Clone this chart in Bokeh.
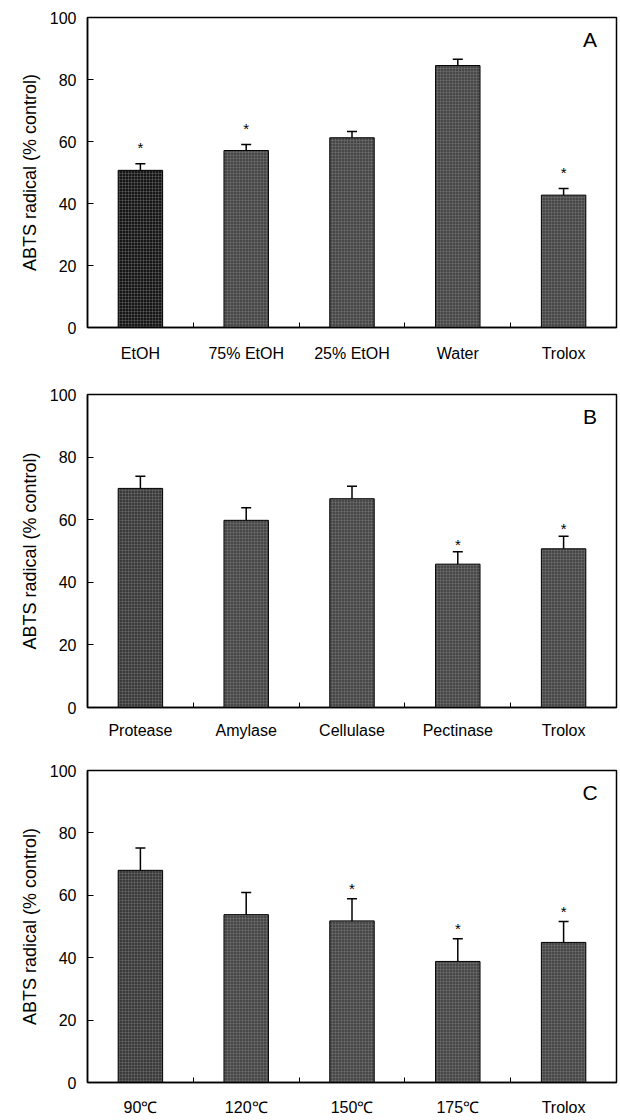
from bokeh.plotting import figure
from bokeh.models import (ColumnDataSource, Range1d, FixedTicker, Whisker, TeeHead, Label)
from bokeh.layouts import column
from bokeh.core.properties import value
from bokeh.embed import file_html
from bokeh.resources import INLINE

# ---- data ----
cats_a = ["EtOH", "75% EtOH", "25% EtOH", "Water", "Trolox"]
vals_a = [50.7, 57.1, 61.2, 84.5, 42.7]
errs_a = [2.1, 1.9, 2.0, 2.0, 2.1]
star_a = [True, True, False, False, True]

cats_b = ["Protease", "Amylase", "Cellulase", "Pectinase", "Trolox"]
vals_b = [70.0, 59.8, 66.7, 45.8, 50.7]
errs_b = [3.9, 4.0, 4.0, 4.0, 4.0]
star_b = [False, False, False, True, True]

cats_c = ["90\u2103", "120\u2103", "150\u2103", "175\u2103", "Trolox"]
vals_c = [68.0, 53.8, 51.8, 38.8, 44.9]
errs_c = [7.2, 7.1, 7.1, 7.3, 6.7]
star_c = [False, False, True, True, True]

y_ticks = [0, 20, 40, 60, 80, 100]
panel_letters = ["A", "B", "C"]

FONT = "Liberation Sans"


def make_panel(cats, vals, errs, stars, letter, height, border_left, border_top,
               bottom_border, label_standoff, first_color, star_off):
    n = len(cats)
    xs = [i + 0.5 for i in range(n)]
    tops = [v + e for v, e in zip(vals, errs)]
    colors = [first_color] + ["#474747"] * (n - 1)
    src = ColumnDataSource(dict(x=xs, top=vals, up=tops, color=colors))

    p = figure(width=618, height=height, output_backend="svg", toolbar_location=None,
               x_range=Range1d(0, n), y_range=Range1d(0, 100),
               min_border_left=border_left, min_border_right=2,
               min_border_top=border_top, min_border_bottom=bottom_border)
    p.background_fill_color = "white"
    p.border_fill_color = "white"
    p.outline_line_color = "black"
    p.outline_line_width = 1.5
    p.grid.visible = False

    p.vbar(x="x", top="top", bottom=0, width=0.42, source=src,
           fill_color="color", line_color="black", line_width=1,
           hatch_pattern="+", hatch_color="#8a8a8a", hatch_alpha=0.55,
           hatch_scale=3.0, hatch_weight=0.6)

    w = Whisker(base="x", lower="top", upper="up", source=src, dimension="height",
                line_color="black", line_width=1.5, lower_head=None,
                upper_head=TeeHead(size=10, line_color="black", line_width=1.5))
    p.add_layout(w)

    sx = [x for x, s in zip(xs, stars) if s]
    sy = [t for t, s in zip(tops, stars) if s]
    p.text(x=sx, y=sy, text=["*"] * len(sx), text_align="center", text_baseline="bottom",
           y_offset=star_off, text_font=value(FONT), text_font_size="15px",
           text_color="black")

    p.add_layout(Label(x=n - 0.25, y=100, y_offset=-10, text=letter, text_align="center",
                       text_baseline="top", text_font=FONT, text_font_size="21px",
                       text_color="black"))

    # x axis
    xa = p.xaxis[0]
    xa.ticker = FixedTicker(ticks=xs, minor_ticks=[i for i in range(1, n)])
    xa.major_label_overrides = {x: c for x, c in zip(xs, cats)}
    xa.major_tick_line_color = None
    xa.minor_tick_in = 5
    xa.minor_tick_out = 0
    xa.minor_tick_line_color = "black"
    xa.minor_tick_line_width = 1
    xa.axis_line_color = "black"
    xa.axis_line_width = 1.5
    xa.major_label_text_font = FONT
    xa.major_label_text_font_size = "16px"
    xa.major_label_text_color = "black"
    xa.major_label_standoff = label_standoff

    # y axis
    ya = p.yaxis[0]
    ya.ticker = FixedTicker(ticks=y_ticks, minor_ticks=[])
    ya.major_tick_in = 6
    ya.major_tick_out = 0
    ya.major_tick_line_color = "black"
    ya.axis_line_color = "black"
    ya.axis_line_width = 1.5
    ya.major_label_text_font = FONT
    ya.major_label_text_font_size = "16px"
    ya.major_label_text_color = "black"
    ya.major_label_standoff = 11
    ya.axis_label = "ABTS radical (% control)"
    ya.axis_label_text_font = FONT
    ya.axis_label_text_font_size = "18px"
    ya.axis_label_text_font_style = "normal"
    ya.axis_label_text_color = "black"
    ya.axis_label_standoff = 7
    return p


pa = make_panel(cats_a, vals_a, errs_a, star_a, panel_letters[0], 383, 87, 17, 56, 11,
                "#151515", -8)
pb = make_panel(cats_b, vals_b, errs_b, star_b, panel_letters[1], 377, 84, 11, 53, 8,
                "#3a3a3a", 1)
pc = make_panel(cats_c, vals_c, errs_c, star_c, panel_letters[2], 358, 83, 10, 36, 10,
                "#3a3a3a", -2)

layout = column(pa, pb, pc, spacing=0)
open("out.html", "w").write(file_html(layout, INLINE))
